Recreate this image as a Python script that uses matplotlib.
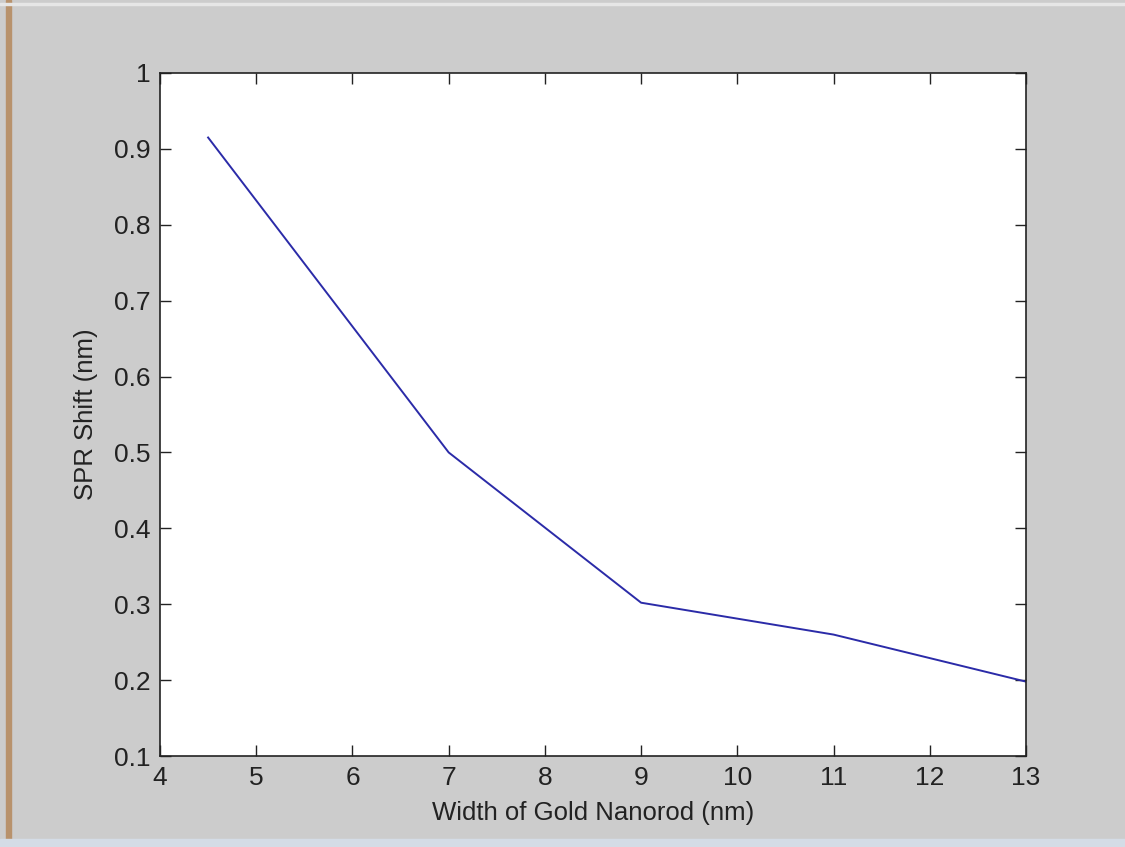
import matplotlib
matplotlib.use('Agg')
import matplotlib.pyplot as plt
from matplotlib.patches import Rectangle

# data
width_nm = [4.5, 7, 9, 11, 13]
spr_shift = [0.915, 0.5, 0.302, 0.26, 0.198]

x_ticks = [4, 5, 6, 7, 8, 9, 10, 11, 12, 13]
y_ticks = [0.1, 0.2, 0.3, 0.4, 0.5, 0.6, 0.7, 0.8, 0.9, 1]
y_labels = ['0.1', '0.2', '0.3', '0.4', '0.5', '0.6', '0.7', '0.8', '0.9', '1']

plt.rcParams['font.family'] = ['Liberation Sans', 'DejaVu Sans']

W, H = 1125, 847
fig = plt.figure(figsize=(W / 100, H / 100), dpi=100, facecolor='#cccccc')

# window frame bits: brown left edge, light top line, bluish bottom strip
fig.patches.append(Rectangle((6 / W, 0), 5 / W, 1, transform=fig.transFigure,
                             color='#b8926c', zorder=0))
fig.patches.append(Rectangle((0, 1 - 5 / H), 1, 2 / H, transform=fig.transFigure,
                             color='#e6e6e6', zorder=0))
fig.patches.append(Rectangle((0, 0), 1, 8 / H, transform=fig.transFigure,
                             color='#d4dce6', zorder=0))

ax = fig.add_axes([160 / W, 1 - 756 / H, 866 / W, 683 / H])
ax.set_facecolor('white')
ax.plot(width_nm, spr_shift, color='#2b2ba8', linewidth=1.4)

ax.set_xlim(4, 13)
ax.set_ylim(0.1, 1)
ax.set_xticks(x_ticks)
ax.set_yticks(y_ticks)
ax.set_yticklabels(y_labels)

ax.tick_params(direction='in', length=8, width=1, top=True, right=True,
               labelsize=19, colors='#222222', pad=7)
for s in ax.spines.values():
    s.set_linewidth(1.2)
    s.set_color('#222222')

ax.set_xlabel('Width of Gold Nanorod (nm)', fontsize=18.5, color='#222222', labelpad=8)
ax.set_ylabel('SPR Shift (nm)', fontsize=18.5, color='#222222', labelpad=11)

fig.savefig('out.png', dpi=100, facecolor=fig.get_facecolor())
